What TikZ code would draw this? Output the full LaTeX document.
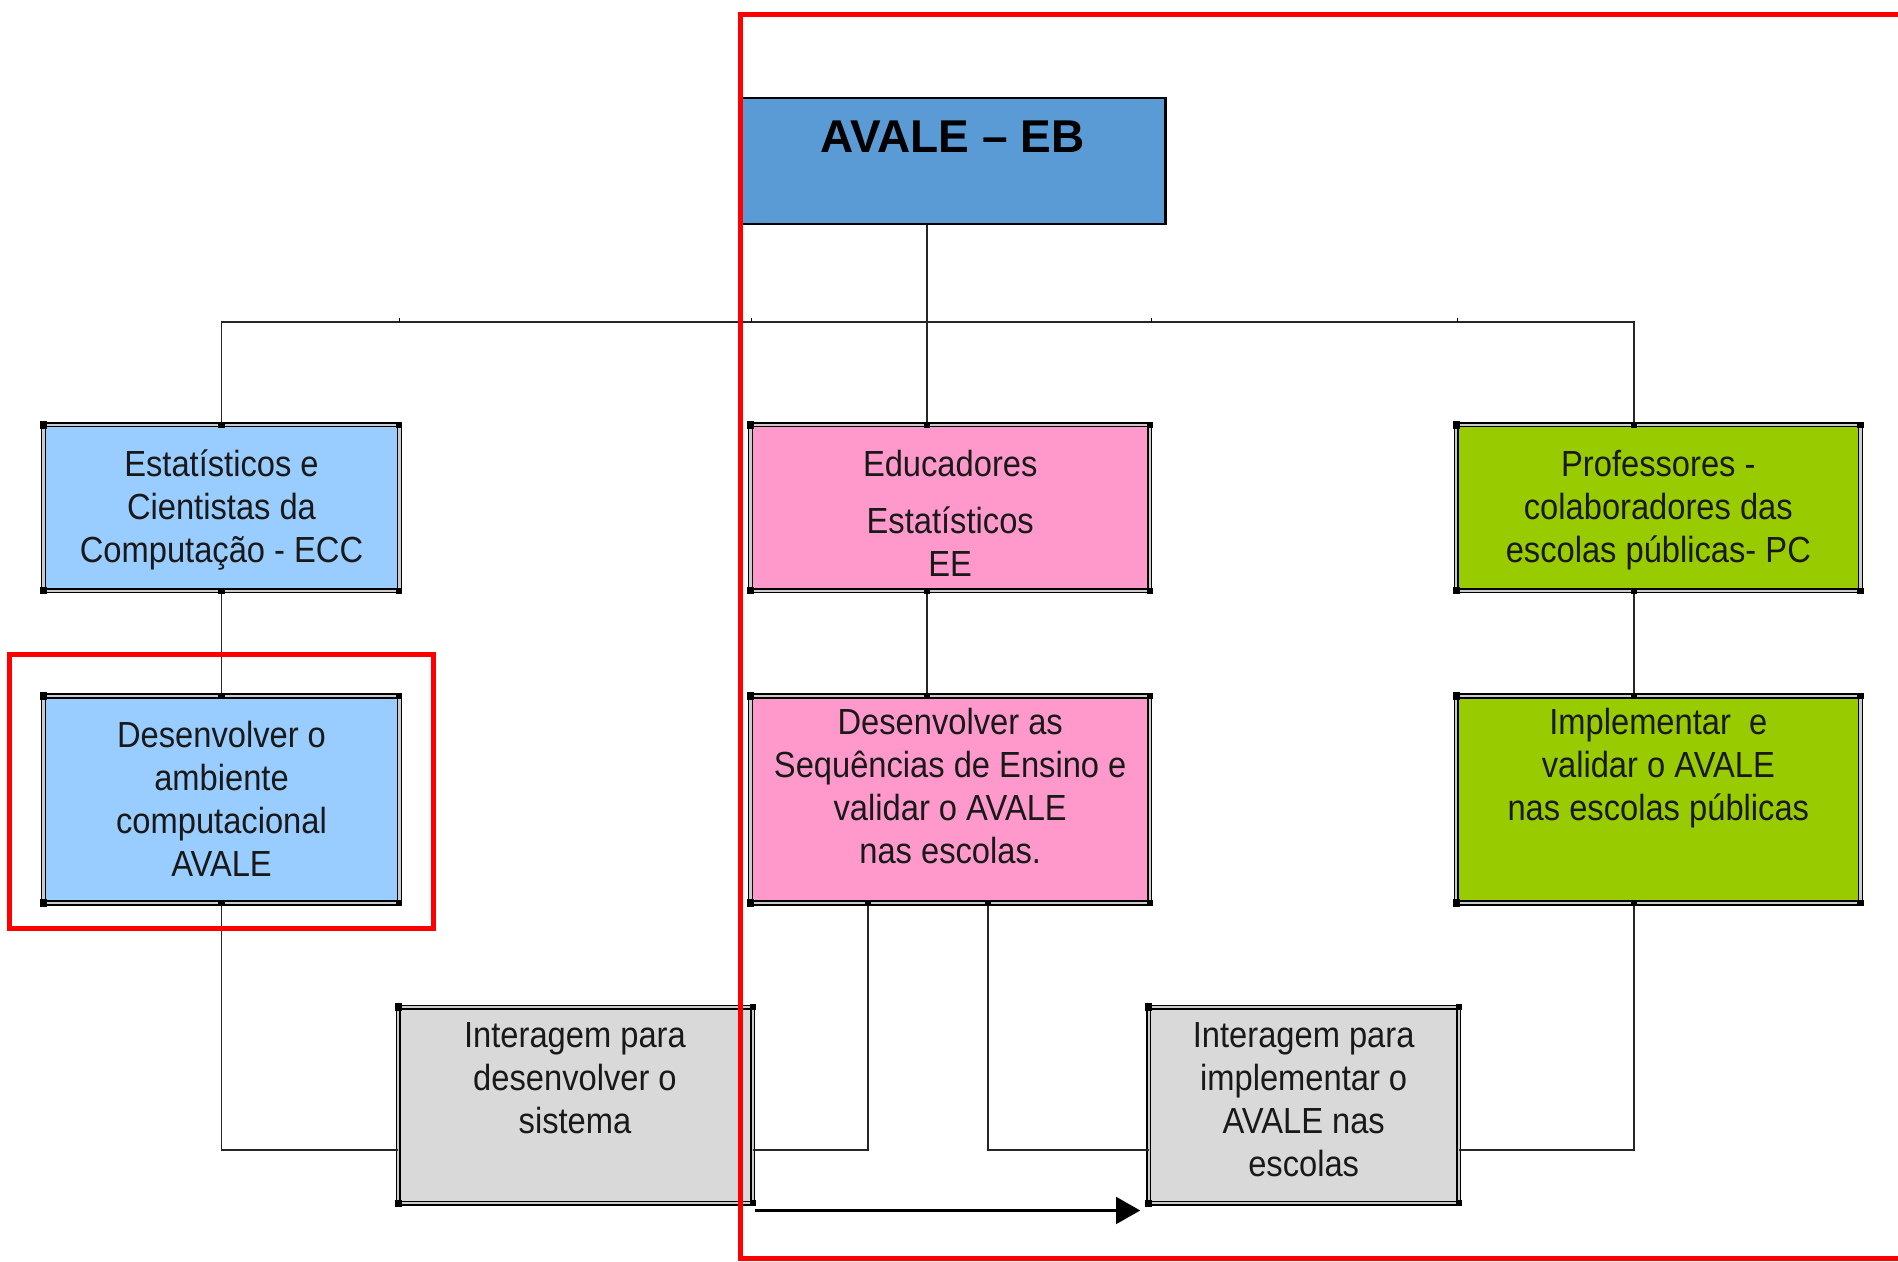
\documentclass[tikz,border=0pt]{standalone}
\usepackage{fontspec}
\setmainfont{Liberation Sans}
\newfontfamily\boxfont{Liberation Sans}[FakeStretch=0.9]
\usetikzlibrary{arrows.meta,calc}
\definecolor{avaleblue}{HTML}{5B9BD5}
\definecolor{ltblue}{HTML}{99CCFF}
\definecolor{pinkbox}{HTML}{FF99CC}
\definecolor{greenbox}{HTML}{99CC00}
\definecolor{graybox}{HTML}{D9D9D9}
\newcommand\mystrut{\rule{0pt}{30pt}}
\begin{document}
\begin{tikzpicture}[x=1pt,y=-1pt,
  orgbox/.style={draw=black, line width=1.2pt, double=gray!40, double distance=1.8pt,
                 inner sep=0pt, outer sep=0pt, anchor=north west},
  txt/.style={font=\boxfont\fontsize{30}{35.5}\selectfont, align=center, inner sep=0pt,
              anchor=north, text=black!90},
  conn/.style={line width=1.4pt, draw=black!85},
  redbox/.style={draw=red, line width=4pt},
  handle/.style={fill=black}
]
\useasboundingbox (0,0) rectangle (1568,1042);
\clip (0,0) rectangle (1568,1042);

% top box
\node[draw=black, line width=1.8pt, fill=avaleblue, minimum width=350pt, minimum height=104pt,
      inner sep=0pt, anchor=north west] (avale) at (612,80) {};
\node[font=\fontsize{38}{44}\selectfont\bfseries, anchor=base, inner sep=0pt] (avalet) at (787,126) {AVALE – EB};

% row 1
\node[orgbox, fill=ltblue,   minimum width=294pt, minimum height=137pt] (ecc) at (36,351) {};
\node[orgbox, fill=pinkbox,  minimum width=330pt, minimum height=137pt] (ee)  at (620,351) {};
\node[orgbox, fill=greenbox, minimum width=334pt, minimum height=137pt] (pc)  at (1203,351) {};
% row 2
\node[orgbox, fill=ltblue,   minimum width=294pt, minimum height=171pt] (ecc2) at (36,575) {};
\node[orgbox, fill=pinkbox,  minimum width=330pt, minimum height=171pt] (ee2)  at (620,575) {};
\node[orgbox, fill=greenbox, minimum width=334pt, minimum height=171pt] (pc2)  at (1203,575) {};
% row 3
\node[orgbox, fill=graybox, minimum width=293pt, minimum height=162pt] (g1) at (329,832) {};
\node[orgbox, fill=graybox, minimum width=256pt, minimum height=162pt] (g2) at (949,832) {};

% bus coordinates
\coordinate (busl) at (183,266);
\coordinate (busm) at (766,266);
\coordinate (busr) at (1350,266);
\coordinate (low) at (0,950);

% connectors
\draw[conn] (avale.south -| busm) -- (ee.north -| busm);
\draw[conn] (ecc.north) -- (busl) -- (busr) -- (pc.north -| busr);
\foreach \tx in {330,621,951,1204} \draw[line width=1pt] (\tx,266) -- (\tx,263);
\draw[conn] (ecc.south) -- (ecc2.north);
\draw[conn] (ee.south -| busm) -- (ee2.north -| busm);
\draw[conn] (pc.south -| busr) -- (pc2.north -| busr);
\draw[conn] (ecc2.south) |- (g1.west |- low);
\draw[conn] ($(ee2.south west)+(97,0)$) |- (g1.east |- low);
\draw[conn] ($(ee2.south west)+(196,0)$) |- (g2.west |- low);
\draw[conn] (pc2.south -| busr) |- (g2.east |- low);

% arrow
\draw[line width=2.6pt, -{Triangle[length=20pt,width=22pt]}]
  ($(g1.south east)+(2,6)$) -- ($(g2.south west)+(-7,6)$);

% handles
\foreach \b in {ecc,ee,pc,ecc2,ee2,pc2,g1,g2}{
  \fill[handle] (\b.north west) ++(-3,-3) rectangle ++(6,6);
  \fill[handle] (\b.south west) ++(-3,-3) rectangle ++(6,6);
  \fill[handle] (\b.north east) ++(-2.5,-2.5) rectangle ++(5,5);
  \fill[handle] (\b.south east) ++(-2.5,-2.5) rectangle ++(5,5);
}
\foreach \p in {ecc.north,ecc.south,ecc2.north,ecc2.south}
  \fill[handle] (\p) ++(-2.5,-2.5) rectangle ++(5,5);
\fill[handle] (ee.north -| busm) ++(-2.5,-2.5) rectangle ++(5,5);
\fill[handle] (ee.south -| busm) ++(-2.5,-2.5) rectangle ++(5,5);
\fill[handle] (ee2.north -| busm) ++(-2.5,-2.5) rectangle ++(5,5);
\fill[handle] ($(ee2.south west)+(97,0)$) ++(-2.5,-2.5) rectangle ++(5,5);
\fill[handle] ($(ee2.south west)+(196,0)$) ++(-2.5,-2.5) rectangle ++(5,5);
\fill[handle] (pc.north -| busr) ++(-2.5,-2.5) rectangle ++(5,5);
\fill[handle] (pc.south -| busr) ++(-2.5,-2.5) rectangle ++(5,5);
\fill[handle] (pc2.north -| busr) ++(-2.5,-2.5) rectangle ++(5,5);
\fill[handle] (pc2.south -| busr) ++(-2.5,-2.5) rectangle ++(5,5);

% texts
\node[txt] (ecct) at (183,363.5) {\mystrut Estatísticos e\\Cientistas da\\Computação - ECC};
\node[txt] (eet) at (785,363.5) {\mystrut Educadores\\[11.5pt]Estatísticos\\EE};
\node[txt] (pct) at (1370,363.5) {\mystrut Professores -\\colaboradores das\\escolas públicas- PC};
\node[txt] (ecc2t) at (183,587.5) {\mystrut Desenvolver o\\ambiente\\computacional\\AVALE};
\node[txt] (ee2t) at (785,576.5) {\mystrut Desenvolver as\\Sequências de Ensino e\\validar o AVALE\\nas escolas.};
\node[txt] (pc2t) at (1370,576.5) {\mystrut Implementar\ \ e\\validar o AVALE\\nas escolas públicas};
\node[txt] (g1t) at (475,835.5) {\mystrut Interagem para\\desenvolver o\\sistema};
\node[txt] (g2t) at (1077,835.5) {\mystrut Interagem para\\implementar o\\AVALE nas\\escolas};

% red highlight frames
\draw[redbox] (612,12) rectangle (1620,1040);
\draw[redbox] (8,541) rectangle (358,767);
\end{tikzpicture}
\end{document}
